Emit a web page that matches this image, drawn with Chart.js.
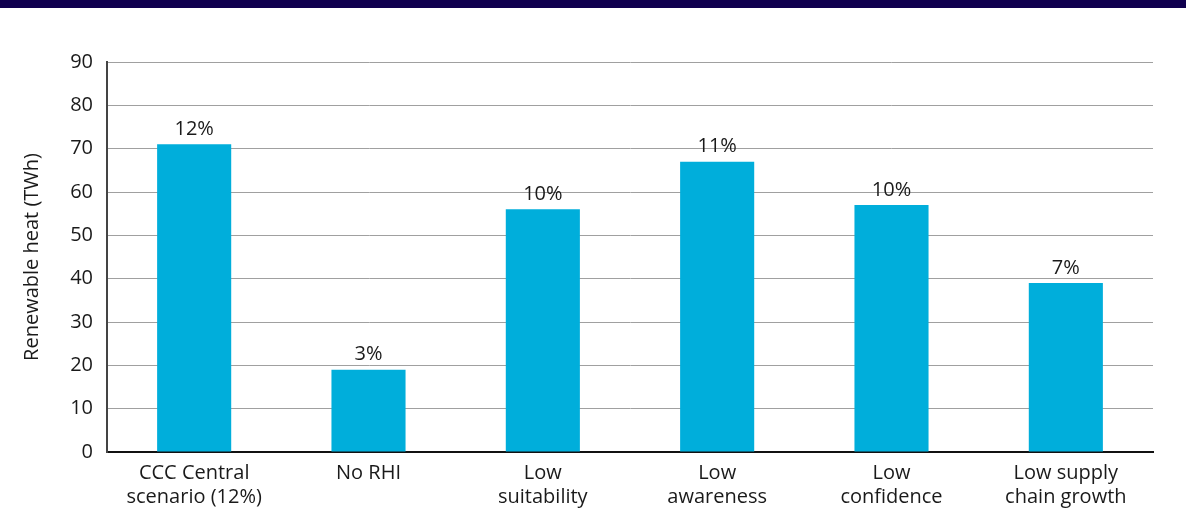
<!DOCTYPE html>
<html>
<head>
<meta charset="utf-8">
<script src="https://cdn.jsdelivr.net/npm/chart.js@4"></script>
<style>
  html, body { margin: 0; padding: 0; background: #fff; }
  .band { height: 8px; background: #10004f; }
  .wrap { position: relative; width: 1186px; height: 523px; }
</style>
</head>
<body>
<div class="band"></div>
<div class="wrap"><canvas id="heatChart"></canvas></div>
<script>
const categories = [
  ['CCC Central', 'scenario (12%)'],
  'No RHI',
  ['Low', 'suitability'],
  ['Low', 'awareness'],
  ['Low', 'confidence'],
  ['Low supply', 'chain growth']
];
const heatTWh = [71, 19, 56, 67, 57, 39];
const shareLabels = ['12%', '3%', '10%', '11%', '10%', '7%'];

const FONT = '"Open Sans", sans-serif';

// draws the % label above each bar
const barLabels = {
  id: 'barLabels',
  afterDatasetsDraw(chart) {
    const ctx = chart.ctx;
    const meta = chart.getDatasetMeta(0);
    ctx.save();
    ctx.font = '20px ' + FONT;
    ctx.fillStyle = '#1a1a1a';
    ctx.textAlign = 'center';
    ctx.textBaseline = 'bottom';
    meta.data.forEach((bar, i) => {
      ctx.fillText(shareLabels[i], bar.x, bar.y - 5);
    });
    ctx.restore();
  }
};

new Chart(document.getElementById('heatChart'), {
  type: 'bar',
  data: {
    labels: categories,
    datasets: [{
      data: heatTWh,
      backgroundColor: '#00aedb',
      categoryPercentage: 1,
      barPercentage: 0.425
    }]
  },
  options: {
    responsive: true,
    maintainAspectRatio: false,
    animation: false,
    layout: { padding: { left: 0, top: 54, right: 33, bottom: 0 } },
    plugins: { legend: { display: false }, tooltip: { enabled: false } },
    scales: {
      x: {
        grid: { display: false },
        border: { color: '#111', width: 2 },
        ticks: { color: '#1a1a1a', font: { family: FONT, size: 20, lineHeight: 1.2 }, padding: 1, maxRotation: 0 },
        afterFit(scale) { scale.height = 79; }
      },
      y: {
        min: 0,
        max: 90,
        grid: { color: '#a0a0a0', lineWidth: 1, drawTicks: false },
        border: { color: '#444', width: 2 },
        ticks: { stepSize: 10, color: '#1a1a1a', font: { family: FONT, size: 20 }, padding: 14 },
        title: { display: true, text: 'Renewable heat (TWh)', color: '#1a1a1a', font: { family: FONT, size: 20 }, padding: { top: 20, bottom: 0 } },
        afterFit(scale) { scale.width = 107; }
      }
    }
  },
  plugins: [barLabels]
});
</script>
</body>
</html>
